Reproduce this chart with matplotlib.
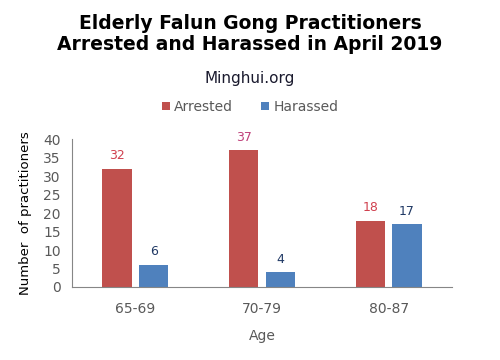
import matplotlib
matplotlib.use("Agg")
import matplotlib.pyplot as plt
import numpy as np

# data
ages = ["65-69", "70-79", "80-87"]
arrested = [32, 37, 18]
harassed = [6, 4, 17]
arrested_label_colors = ["#D0404E", "#C0407A", "#D0404E"]
harassed_label_colors = ["#1F3864", "#1F3864", "#1F3864"]

red = "#C0504D"
blue = "#4F81BD"
gray_txt = "#595959"

plt.rcParams["font.family"] = ["DejaVu Sans"]

fig = plt.figure(figsize=(5, 3.6), dpi=100)
ax = fig.add_axes([0.144, 0.203, 0.76, 0.41])

x = np.arange(len(ages))
w = 0.23
off = 0.145
b1 = ax.bar(x - off, arrested, w, color=red, label="Arrested")
b2 = ax.bar(x + off, harassed, w, color=blue, label="Harassed")

for rect, v, c in zip(b1, arrested, arrested_label_colors):
    ax.text(rect.get_x() + rect.get_width() / 2, v + 1.8, str(v), ha="center",
            va="bottom", fontsize=9, color=c)
for rect, v, c in zip(b2, harassed, harassed_label_colors):
    ax.text(rect.get_x() + rect.get_width() / 2, v + 1.8, str(v), ha="center",
            va="bottom", fontsize=9, color=c)

ax.set_xlim(-0.5, 2.5)
ax.set_ylim(0, 40)
ax.set_yticks(range(0, 41, 5))
ax.set_xticks(x)
ax.set_xticklabels(ages)
ax.tick_params(axis="both", length=0, labelsize=10, colors=gray_txt)
ax.tick_params(axis="x", pad=11)
ax.tick_params(axis="y", pad=8)
for s in ["top", "right"]:
    ax.spines[s].set_visible(False)
ax.spines["left"].set_color("#868686")
ax.spines["bottom"].set_color("#868686")

ax.set_ylabel("Number  of practitioners", fontsize=9.5, color="black", labelpad=8)
ax.set_xlabel("Age", fontsize=10, color=gray_txt, labelpad=9)

fig.text(0.5, 0.905, "Elderly Falun Gong Practitioners\nArrested and Harassed in April 2019",
         ha="center", va="center", fontsize=13.5, fontweight="bold", linespacing=1.1)
fig.text(0.5, 0.783, "Minghui.org", ha="center", va="center", fontsize=11, color="#1a1a2e")

leg = fig.legend(handles=[b1, b2], loc="center", bbox_to_anchor=(0.5, 0.703), ncol=2,
                 frameon=False, fontsize=10, handlelength=0.6, handleheight=0.6,
                 handletextpad=0.3, columnspacing=2.0)
for t in leg.get_texts():
    t.set_color(gray_txt)

fig.savefig("out.png", dpi=100)
